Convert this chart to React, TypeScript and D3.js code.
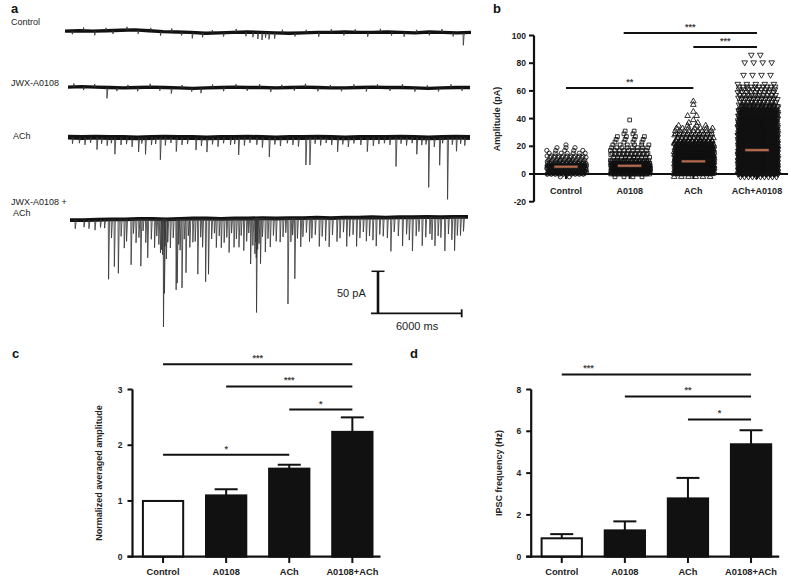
import React from "react";
import * as d3 from "d3";

const FONT = "'Liberation Sans', Arial, Helvetica, sans-serif";

// ---------- Panel a : traces (time in s, current in pA) ----------
const controlDrift = [1, 1.5, 1, 1.5, 2, 2.5, 1.5, 0.5, 0, -0.5, -1.5, -1, -0.5, 0, -0.5, -1, -1.5, -1, -0.5, -0.5, 0, -0.5, -0.5, 0, -0.5, -1, 0, -0.5, -1, -0.5];
const jwxDrift = [0.5, 1, 0.5, 0, -0.5, 0, 0.5, 0, -0.5, -1, -0.5, 0, 0.5, 0, 0, -0.5, 0, 0.5, 0, -0.5, -0.5, 0, 0.5, 0, 0, -0.5, -1, -0.5, 0, 0];
const achDrift = [0.5, 0, 0.5, 0, 0, -0.5, 0, 0.5, 0, 0, -0.5, 0, 0, 0.5, 0, -0.5, 0, 0, 0.5, 0, -0.5, 0, 0, 0, 0.5, 0, -0.5, 0, 0.5, 0];
const comboDrift = [-2, -2, -1.5, -1, -1, -0.5, -0.5, -1, -0.5, 0, 0, -0.5, 0, 0, 0.5, 0, 0.5, 0.5, 1, 0.5, 1, 1, 1.5, 1, 1.5, 1.5, 2, 1.5, 2, 2];

const controlEvents: [number, number][] = [
  [0.5, -2], [1.3, 2], [2.1, -3], [2.9, 1.5], [3.4, -2], [4.4, 2], [5.2, -2.5], [6.1, 1.5], [6.8, -3], [7.6, 2], [8.3, -2], [9.07, -5],
  [9.8, -3], [10.5, 1.5], [11.3, -2.5], [12.2, 2], [12.9, -3], [13.4, -4], [13.75, -6], [14.05, -7], [14.3, -4], [14.55, -6], [14.95, -5],
  [15.5, 2], [16.4, -2], [17.2, 1.5], [18.1, -3], [19.0, 2], [19.9, -2], [20.7, 1.5], [21.6, -3], [22.5, 2], [23.3, -2], [24.2, -3],
  [25.1, 1.5], [26.0, -2], [26.9, 2], [27.7, -2.5], [28.43, -13],
];
const jwxEvents: [number, number][] = [
  [0.4, 2], [1.1, -2], [1.9, 1.5], [2.79, -11], [3.5, -2], [4.3, 1.5], [5.0, -2.5], [5.9, 2], [6.6, -2], [7.43, -5], [8.2, 1.5],
  [8.9, -2], [9.57, -4], [10.4, 2], [11.2, -2.5], [12.1, 1.5], [12.9, -2], [13.8, 2], [14.6, -3], [15.4, 1.5], [16.3, -2], [17.1, 2],
  [18.0, -2.5], [18.9, 1.5], [19.7, -2], [20.6, 2], [21.5, -3], [22.3, 1.5], [23.2, -2], [24.1, 2], [25.0, -2.5], [25.9, 1.5],
  [26.7, -2], [27.6, 2], [28.4, -2],
];
const achEvents: [number, number][] = [
  [0.3, -5], [0.8, -4], [1.2, -6], [1.6, -4], [2.07, -12], [2.4, -5], [2.8, -7], [3.1, -4], [3.36, -17], [3.8, -6], [4.2, -5], [4.6, -8],
  [5.07, -14], [5.3, -4], [5.57, -17], [6.0, -6], [6.3, -5], [6.64, -24], [7.0, -7], [7.4, -4], [7.79, -14], [8.2, -6], [8.6, -5],
  [9.21, -12], [9.6, -7], [10.0, -14], [10.4, -5], [10.8, -8], [11.2, -4], [11.7, -6], [12.0, -5], [12.29, -18], [12.7, -7], [13.1, -4],
  [13.6, -6], [14.0, -9], [14.5, -20], [14.9, -5], [15.3, -7], [15.8, -4], [16.2, -6], [16.6, -8], [17.14, -30], [17.43, -30],
  [17.8, -5], [18.2, -7], [18.6, -4], [19.0, -6], [19.43, -14], [19.8, -5], [20.2, -8], [20.6, -4], [21.1, -6], [21.57, -14],
  [22.0, -7], [22.4, -5], [22.8, -4], [23.2, -6], [23.64, -32], [24.0, -5], [24.4, -7], [24.8, -4], [25.14, -17], [25.5, -6],
  [25.8, -5], [26.0, -56], [26.4, -8], [26.79, -30], [27.0, -4], [27.36, -71], [27.7, -6], [28.0, -14], [28.3, -5], [28.6, -7],
];
const comboEvents: [number, number][] = [
  [0.36, -8], [1.0, -6], [1.36, -8], [1.8, -10], [2.2, -7], [2.5, -8], [2.79, -69], [3.0, -20], [3.21, -54], [3.5, -62], [3.7, -18],
  [3.93, -32], [4.1, -24], [4.43, -52], [4.6, -15], [4.79, -26], [5.0, -20], [5.14, -54], [5.3, -12], [5.5, -26], [5.64, -44],
  [5.9, -22], [6.14, -32], [6.3, -18], [6.45, -28], [6.57, -38], [6.65, -34], [6.72, -40], [6.79, -126], [6.86, -86], [6.9, -30],
  [7.0, -45], [7.1, -25], [7.29, -32], [7.5, -20], [7.71, -82], [7.79, -74], [7.9, -28], [8.0, -35], [8.14, -80], [8.3, -22],
  [8.43, -62], [8.6, -18], [8.71, -32], [8.93, -26], [9.1, -25], [9.29, -64], [9.5, -20], [9.64, -32], [9.86, -73], [10.07, -64],
  [10.3, -22], [10.5, -15], [10.64, -32], [10.85, -18], [11.0, -32], [11.21, -26], [11.4, -20], [11.57, -38], [11.75, -15],
  [11.93, -32], [12.1, -22], [12.29, -32], [12.45, -18], [12.64, -36], [12.85, -25], [13.0, -15], [13.14, -52], [13.3, -30],
  [13.45, -40], [13.5, -26], [13.55, -45], [13.57, -110], [13.65, -35], [13.75, -28], [13.86, -52], [14.0, -20], [14.21, -38],
  [14.4, -22], [14.57, -32], [14.8, -18], [15.0, -25], [15.29, -26], [15.5, -20], [15.7, -15], [15.86, -100], [16.07, -26],
  [16.2, -18], [16.36, -70], [16.55, -22], [16.79, -32], [16.95, -20], [17.2, -15], [17.43, -26], [17.6, -22], [17.85, -18],
  [18.14, -32], [18.35, -20], [18.6, -25], [18.86, -32], [19.1, -18], [19.43, -26], [19.65, -22], [19.9, -15], [20.14, -32],
  [20.35, -20], [20.6, -18], [20.86, -32], [21.1, -22], [21.35, -15], [21.57, -26], [21.8, -20], [22.05, -25], [22.29, -32],
  [22.55, -18], [22.8, -20], [23.1, -22], [23.36, -38], [23.6, -15], [23.9, -20], [24.21, -32], [24.5, -18], [24.7, -25],
  [24.93, -38], [25.2, -20], [25.4, -15], [25.64, -32], [25.9, -22], [26.2, -18], [26.35, -25], [26.57, -32], [26.8, -20],
  [27.0, -22], [27.29, -38], [27.55, -18], [27.8, -25], [28.0, -38], [28.2, -20], [28.43, -20], [28.65, -15],
];

// ---------- Panel b : amplitude scatter, [bin value (pA), count] ----------
const ampGroups = ["Control", "A0108", "ACh", "ACh+A0108"];
const controlAmpBins: [number, number][] = [[-1, 12], [1, 40], [3, 45], [5, 45], [7, 40], [9, 26], [11, 12], [13, 10], [15, 7], [17, 5], [19, 3], [21, 1]];
const a0108AmpBins: [number, number][] = [[-1, 14], [1, 50], [3, 60], [5, 60], [7, 50], [9, 30], [11, 16], [13, 12], [15, 10], [17, 9], [19, 8], [21, 6], [23, 4], [25, 4], [27, 4], [29, 2], [31, 2], [39, 1]];
const achAmpBins: [number, number][] = [[-1, 16], [1, 60], [3, 70], [5, 70], [7, 70], [9, 65], [11, 60], [13, 55], [15, 50], [17, 45], [19, 40], [21, 35], [23, 28], [25, 20], [27, 12], [29, 10], [31, 9], [33, 7], [35, 4], [37, 2], [39, 1], [42, 2], [45, 1], [50, 1], [52.5, 1]];
const comboAmpBins: [number, number][] = [[-1, 20], [1, 70], [3, 80], [5, 80], [7, 80], [9, 80], [11, 80], [13, 75], [15, 75], [17, 70], [19, 70], [21, 65], [23, 60], [25, 60], [27, 55], [29, 55], [31, 50], [33, 50], [35, 45], [37, 45], [39, 40], [41, 40], [43, 35], [45, 35], [47, 30], [49, 24], [51, 14], [53, 12], [55, 10], [57, 10], [59, 9], [61, 9], [63, 10], [65, 5], [71.5, 4], [80.5, 4], [86, 2]];
const ampMeans = [6.0, 7.0, 10.2, 17.4];
const ampMeanCentre = [5.3, 6.0, 9.1, 17.2];
const ampTicks = [-20, 0, 20, 40, 60, 80, 100];

// ---------- Panels c, d : bars ----------
const barGroups = ["Control", "A0108", "ACh", "A0108+ACh"];
const normAmpMeans = [1.0, 1.1, 1.58, 2.24];
const normAmpErr = [0, 0.11, 0.07, 0.26];
const normTicks = [0, 1, 2, 3];
const freqMeans = [0.88, 1.26, 2.79, 5.38];
const freqErr = [0.2, 0.43, 0.98, 0.67];
const freqTicks = [0, 2, 4, 6, 8];

const sigB = [
  { from: "A0108", to: "ACh+A0108", level: 101.8, label: "***" },
  { from: "ACh", to: "ACh+A0108", level: 91.7, label: "***" },
  { from: "Control", to: "ACh", level: 62.1, label: "**" },
];
const sigC = [
  { from: "Control", to: "A0108+ACh", level: 3.455, label: "***" },
  { from: "A0108", to: "A0108+ACh", level: 3.054, label: "***" },
  { from: "ACh", to: "A0108+ACh", level: 2.64, label: "*" },
  { from: "Control", to: "ACh", level: 1.83, label: "*" },
];
const sigD = [
  { from: "Control", to: "A0108+ACh", level: 8.72, label: "***", shift: -68 },
  { from: "A0108", to: "A0108+ACh", level: 7.67, label: "**" },
  { from: "ACh", to: "A0108+ACh", level: 6.57, label: "*" },
];

// ---------- helpers ----------
function Trace({ drift, events, x0, x1, base, bw }: { drift: number[]; events: [number, number][]; x0: number; x1: number; base: number; bw: number }) {
  const xs = d3.scaleLinear().domain([0, drift.length - 1]).range([x0, x1]);
  const ys = d3.scaleLinear().domain([0, -50]).range([base, base + 42]);
  const line = d3.line<number>().x((_, i) => xs(i)).y((v) => ys(v));
  const baseAt = (t: number) => {
    const i = Math.max(0, Math.min(drift.length - 2, Math.floor(t)));
    const f = t - i;
    return drift[i] + (drift[i + 1] - drift[i]) * f;
  };
  let ev = "";
  events.forEach(([t, a]) => {
    const b = baseAt(t);
    const x = xs(t);
    const y0 = ys(b);
    const y1 = ys(b + a) + (a < 0 ? bw / 2 : -bw / 2);
    ev += `M${x.toFixed(2)},${y0.toFixed(2)}L${(x + 0.3).toFixed(2)},${y1.toFixed(2)}L${(x + 1.3).toFixed(2)},${y0.toFixed(2)}`;
  });
  return (
    <g>
      <path d={line(drift) || ""} fill="none" stroke="#111" strokeWidth={bw} strokeLinejoin="round" />
      <path d={ev} fill="none" stroke="#333" strokeWidth={0.8} />
    </g>
  );
}

function layoutBins(bins: [number, number][], cx: number, y: (v: number) => number) {
  const pts: [number, number][] = [];
  const cap = 10;
  const binH = Math.abs(y(0) - y(2));
  bins.forEach(([v, n], bi) => {
    const rows = Math.ceil(n / cap);
    for (let r = 0; r < rows; r++) {
      const inRow = Math.min(cap, n - r * cap);
      const yy = y(v) + (rows > 1 ? (r / (rows - 1) - 0.5) * binH : 0);
      if (inRow >= cap) {
        const frac = ((r * 0.618 + bi * 0.29) % 1) * 4;
        for (let i = 0; i < inRow; i++) pts.push([cx - 19 + frac + i * 4, yy]);
      } else {
        const sp = Math.min(36 / Math.max(inRow - 1, 1), 9);
        const stagger = inRow > 1 ? ((bi % 3) - 1) * 1.2 : 0;
        for (let i = 0; i < inRow; i++) pts.push([cx + (i - (inRow - 1) / 2) * sp + stagger, yy]);
      }
    }
  });
  return pts;
}

function Sig({ x1, x2, y, label, shift = 0 }: { x1: number; x2: number; y: number; label: string; shift?: number }) {
  return (
    <g>
      <line x1={x1} x2={x2} y1={y} y2={y} stroke="#111" strokeWidth={2} />
      <text x={(x1 + x2) / 2 + shift} y={y - 3} textAnchor="middle" fontSize={9} fontWeight="bold" fill="#444">{label}</text>
    </g>
  );
}

function BarPanel({ means, errs, ticks, domainMax, x0, yLabel, yLabelX, sig }: any) {
  const y = d3.scaleLinear().domain([0, domainMax]).range([556.7, 389.5]);
  const x = d3.scaleBand<string>().domain(barGroups).range([x0, x0 + 252.4]).paddingInner(0.33).paddingOuter(0.165);
  const axisX = x0 + 1;
  const bwid = x.bandwidth();
  return (
    <g>
      {barGroups.map((g, i) => {
        const bx = x(g)!;
        const cx = bx + bwid / 2;
        return (
          <g key={g}>
            <rect x={bx + 1} y={y(means[i])} width={bwid - 2} height={y(0) - y(means[i])} fill={i === 0 ? "#fff" : "#111"} stroke="#111" strokeWidth={2} />
            {errs[i] > 0 && (
              <g stroke="#111" strokeWidth={2}>
                <line x1={cx} x2={cx} y1={y(means[i])} y2={y(means[i] + errs[i])} />
                <line x1={cx - 11.5} x2={cx + 11.5} y1={y(means[i] + errs[i])} y2={y(means[i] + errs[i])} />
              </g>
            )}
            <line x1={cx} x2={cx} y1={557} y2={563} stroke="#111" strokeWidth={2} />
            <text x={cx} y={575} textAnchor="middle" fontSize={9.3} fontWeight="bold" fill="#222">{g}</text>
          </g>
        );
      })}
      <line x1={axisX} x2={axisX} y1={y(domainMax)} y2={y(0) + 1} stroke="#111" strokeWidth={2.2} />
      <line x1={axisX - 5} x2={x0 + 249} y1={y(0)} y2={y(0)} stroke="#111" strokeWidth={2.2} />
      {ticks.map((t: number) => (
        <g key={t}>
          <line x1={axisX - 5} x2={axisX} y1={y(t)} y2={y(t)} stroke="#111" strokeWidth={2} />
          <text x={axisX - 10} y={y(t) + 3} textAnchor="end" fontSize={8.5} fontWeight="bold" fill="#222">{t}</text>
        </g>
      ))}
      <text transform={`translate(${yLabelX},${473}) rotate(-90)`} textAnchor="middle" fontSize={9} fontWeight="bold" fill="#222">{yLabel}</text>
      {sig.map((s: any, i: number) => (
        <Sig key={i} x1={x(s.from)! + bwid / 2} x2={x(s.to)! + bwid / 2} y={y(s.level)} label={s.label} shift={s.shift || 0} />
      ))}
    </g>
  );
}

export default function App() {
  const yB = d3.scaleLinear().domain([-20, 100]).range([201.7, 35.5]);
  const xB = d3.scalePoint<string>().domain(ampGroups).range([566, 757]);
  const binsets = [controlAmpBins, a0108AmpBins, achAmpBins, comboAmpBins];
  const symTypes = [d3.symbolCircle, d3.symbolSquare, d3.symbolTriangle, d3.symbolTriangle];
  const symPaths = symTypes.map((t) => d3.symbol().type(t).size(14)() || "");

  const sbY = d3.scaleLinear().domain([0, 50]).range([313.3, 271.3]);
  const sbX = d3.scaleLinear().domain([0, 6000]).range([378, 461.7]);

  return (
    <svg width={790} height={576} style={{ position: "absolute", left: 0, top: 0, background: "#fff" }} fontFamily={FONT}>
      <rect width={790} height={576} fill="#fff" />
      {/* ---------- panel a ---------- */}
      <text x={11} y={13} fontSize={13} fontWeight="bold" fill="#111">a</text>
      <g fontSize={9} fill="#222">
        <text x={11} y={25}>Control</text>
        <text x={11} y={85.5}>JWX-A0108</text>
        <text x={13} y={138.5}>ACh</text>
        <text x={11} y={205}>JWX-A0108 +</text>
        <text x={13} y={215.7}>ACh</text>
      </g>
      <Trace drift={controlDrift} events={controlEvents} x0={65} x1={471} base={32} bw={3.4} />
      <Trace drift={jwxDrift} events={jwxEvents} x0={68} x1={470} base={87.5} bw={3.4} />
      <Trace drift={achDrift} events={achEvents} x0={68} x1={470} base={137.5} bw={4.8} />
      <Trace drift={comboDrift} events={comboEvents} x0={70} x1={468} base={218.5} bw={3.8} />
      <g stroke="#111">
        <line x1={sbX(0)} x2={sbX(0)} y1={sbY(0)} y2={sbY(50)} strokeWidth={2.6} />
        <line x1={sbX(0) - 6.5} x2={sbX(0) + 6.5} y1={sbY(50)} y2={sbY(50)} strokeWidth={1.5} />
        <line x1={sbX(0) - 7} x2={sbX(6000)} y1={sbY(0)} y2={sbY(0)} strokeWidth={1.8} />
        <line x1={sbX(6000)} x2={sbX(6000)} y1={sbY(0) - 4} y2={sbY(0) + 4} strokeWidth={1.8} />
      </g>
      <text x={337} y={296.5} fontSize={11} fill="#222">50 pA</text>
      <text x={396} y={330} fontSize={11} fill="#222">6000 ms</text>

      {/* ---------- panel b ---------- */}
      <text x={493} y={12.5} fontSize={13} fontWeight="bold" fill="#111">b</text>
      {ampGroups.map((g, gi) => {
        const cx = xB(g)!;
        const pts = layoutBins(binsets[gi], cx, yB);
        return (
          <g key={g}>
            {pts.map(([px, py], k) => (
              <path key={k} d={symPaths[gi]} transform={`translate(${px.toFixed(2)},${py.toFixed(2)})${gi === 3 ? " rotate(180)" : ""}`} fill="none" stroke="#111" strokeWidth={0.85} />
            ))}
            <line x1={cx - 21} x2={cx + 21} y1={yB(ampMeans[gi])} y2={yB(ampMeans[gi])} stroke="#111" strokeWidth={1.6} />
            <rect x={cx - 12} y={yB(ampMeanCentre[gi]) - 1.4} width={24} height={2.8} fill="#b86a4c" stroke="#222" strokeWidth={0.6} />
            <line x1={cx} x2={cx} y1={174} y2={179} stroke="#111" strokeWidth={2} />
            <text x={cx} y={194} textAnchor="middle" fontSize={9} fontWeight="bold" fill="#222">{g}</text>
          </g>
        );
      })}
      <line x1={534} x2={534} y1={yB(100)} y2={yB(-20)} stroke="#111" strokeWidth={2.2} />
      <line x1={530} x2={788} y1={yB(0)} y2={yB(0)} stroke="#111" strokeWidth={2.2} />
      {ampTicks.map((t) => (
        <g key={t}>
          <line x1={529} x2={534} y1={yB(t)} y2={yB(t)} stroke="#111" strokeWidth={2} />
          <text x={526} y={yB(t) + 3} textAnchor="end" fontSize={8.5} fontWeight="bold" fill="#222">{t}</text>
        </g>
      ))}
      <text transform={`translate(500,119) rotate(-90)`} textAnchor="middle" fontSize={9} fontWeight="bold" fill="#222">Amplitude (pA)</text>
      {sigB.map((s, i) => (
        <Sig key={i} x1={xB(s.from)! - (s.from === "A0108" ? 6 : 0)} x2={xB(s.to)!} y={yB(s.level)} label={s.label} />
      ))}

      {/* ---------- panel c ---------- */}
      <text x={12} y={358} fontSize={13} fontWeight="bold" fill="#111">c</text>
      <BarPanel means={normAmpMeans} errs={normAmpErr} ticks={normTicks} domainMax={3} x0={131.5} yLabel="Normalized averaged amplitude" yLabelX={102} sig={sigC} />

      {/* ---------- panel d ---------- */}
      <text x={410} y={358} fontSize={13} fontWeight="bold" fill="#111">d</text>
      <BarPanel means={freqMeans} errs={freqErr} ticks={freqTicks} domainMax={8} x0={530.2} yLabel="IPSC frequency (Hz)" yLabelX={502} sig={sigD} />
    </svg>
  );
}
